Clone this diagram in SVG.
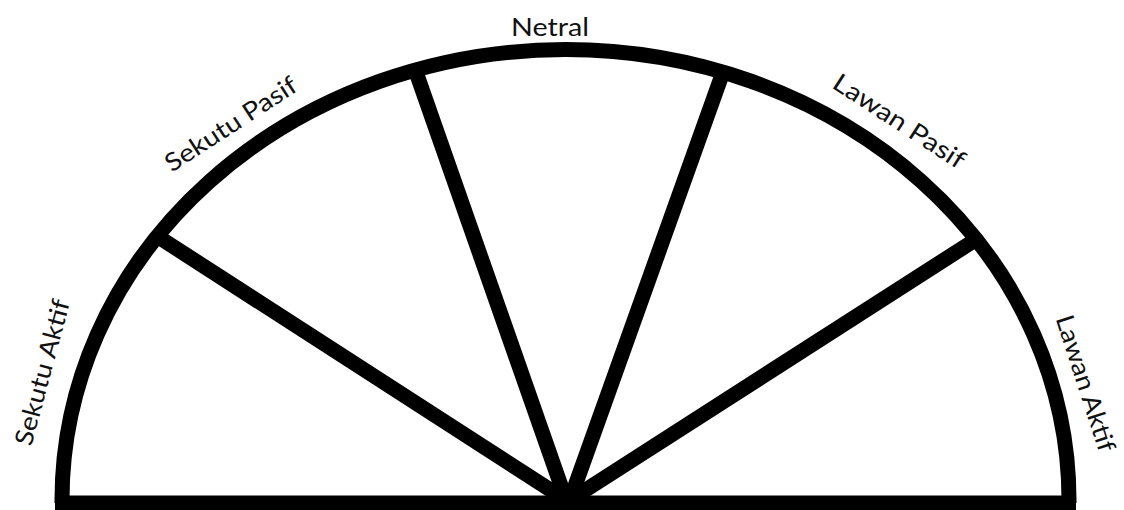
<svg xmlns="http://www.w3.org/2000/svg" width="1124" height="510" viewBox="0 0 1124 510">
<style>
.ln{fill:none;stroke:#000;stroke-width:15;}
.lb{font-family:Lato,"Open Sans","Liberation Sans",sans-serif;font-size:25px;fill:#111;text-anchor:middle;dominant-baseline:central;}
</style>
<rect width="1124" height="510" fill="#fff"/>
<g id="frame">
<path class="ln" d="M62,503 L62,500 A503,450 0 0 1 1069,500 L1069,503"/>
<line class="ln" x1="55" y1="503" x2="1076" y2="503"/>
</g>
<g id="connectors">
<line class="ln" x1="160" y1="238" x2="566" y2="500"/>
<line class="ln" x1="416" y1="72" x2="566" y2="500"/>
<line class="ln" x1="723" y1="72" x2="570" y2="500"/>
<line class="ln" x1="972" y1="242" x2="570" y2="500"/>
</g>
<g id="sekutu-aktif"><text class="lb" transform="translate(41,372) rotate(-75)" textLength="150" lengthAdjust="spacingAndGlyphs">Sekutu Aktif</text></g>
<g id="sekutu-pasif"><text class="lb" transform="translate(230,123) rotate(-33)" textLength="152" lengthAdjust="spacingAndGlyphs">Sekutu Pasif</text></g>
<g id="netral"><text class="lb" x="550" y="26" textLength="78" lengthAdjust="spacingAndGlyphs">Netral</text></g>
<g id="lawan-pasif"><text class="lb" transform="translate(900,120) rotate(33)" textLength="152" lengthAdjust="spacingAndGlyphs">Lawan Pasif</text></g>
<g id="lawan-aktif"><text class="lb" transform="translate(1087,383) rotate(72)" textLength="142" lengthAdjust="spacingAndGlyphs">Lawan Aktif</text></g>
</svg>
